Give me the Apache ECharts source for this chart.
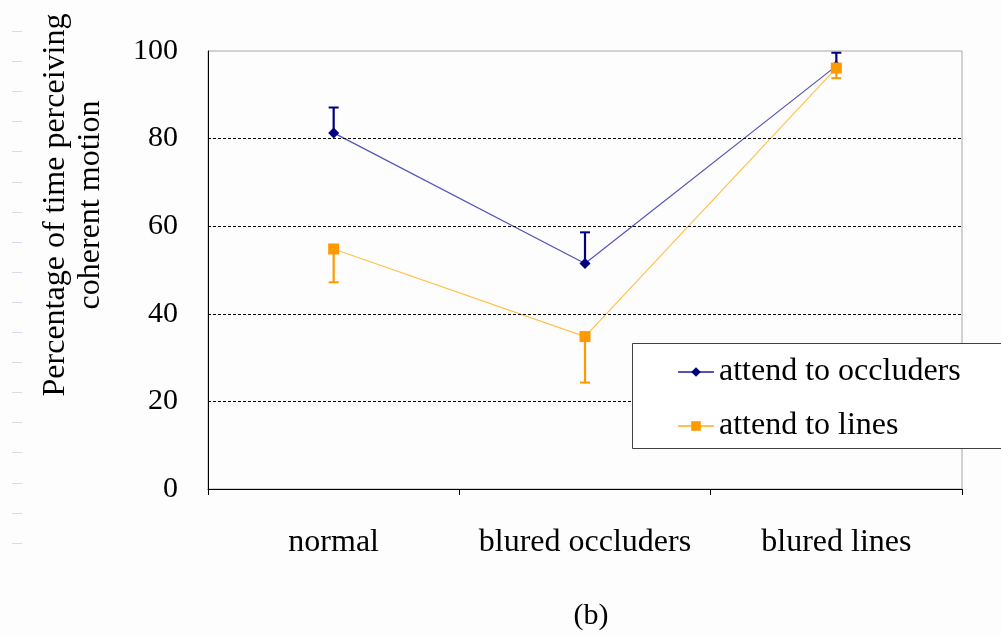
<!DOCTYPE html>
<html>
<head>
<meta charset="utf-8">
<script src="https://cdn.jsdelivr.net/npm/echarts@6/dist/echarts.min.js"></script>
<style>
  html, body { margin: 0; padding: 0; background: #fdfdfd; }
  #chart { width: 1001px; height: 636px; }
</style>
</head>
<body>
<div id="chart"></div>
<script>
// Conditions along the x axis
const categories = ['normal', 'blured occluders', 'blured lines'];

// Mean percentage of time perceiving coherent motion
const occludersMean = [81.3, 51.5, 96.6];
const linesMean = [54.8, 34.8, 96.1];

// Error bar ends (occluders drawn upward, lines drawn downward)
const occludersUpper = [87.1, 58.6, 99.6];
const linesLower = [47.2, 24.3, 93.8];

// Value axis ticks and dashed reference lines
const yTicks = [0, 20, 40, 60, 80, 100];
const gridValues = [20, 40, 60, 80];

const seriesNames = ['attend to occluders', 'attend to lines'];

const FONT = 'Liberation Serif';

function errorBar(color) {
  return function (params, api) {
    const base = api.coord([api.value(0), api.value(1)]);
    const end = api.coord([api.value(0), api.value(2)]);
    const half = 5;
    return {
      type: 'group',
      children: [
        { type: 'line', shape: { x1: base[0], y1: base[1], x2: end[0], y2: end[1] },
          style: { stroke: color, lineWidth: 2.2 } },
        { type: 'line', shape: { x1: end[0] - half, y1: end[1], x2: end[0] + half, y2: end[1] },
          style: { stroke: color, lineWidth: 2 } }
      ]
    };
  };
}

// Faint ruler marks along the left margin
const marginMarks = [];
for (let y = 31; y < 560; y += 30.1) {
  marginMarks.push({
    type: 'line', silent: true, z: 0,
    shape: { x1: 12, y1: Math.round(y) + 0.5, x2: 22, y2: Math.round(y) + 0.5 },
    style: { stroke: '#d9d9ec', lineWidth: 1 }
  });
}

const chart = echarts.init(document.getElementById('chart'), null, { renderer: 'canvas' });

chart.setOption({
  backgroundColor: '#fdfdfd',
  animation: false,
  textStyle: { fontFamily: FONT },
  grid: {
    left: 208, right: 39, top: 51, bottom: 147,
    show: true, borderColor: '#a8a8a8', borderWidth: 1, backgroundColor: 'transparent'
  },
  xAxis: {
    type: 'category',
    data: categories,
    axisLine: { lineStyle: { color: '#000', width: 1 } },
    axisTick: { show: true, length: 6, interval: 0, lineStyle: { color: '#000' } },
    axisLabel: { color: '#000', fontFamily: FONT, fontSize: 32, margin: 38, interval: 0 },
    splitLine: { show: false }
  },
  yAxis: {
    type: 'value',
    min: yTicks[0], max: yTicks[yTicks.length - 1], interval: 20,
    axisLine: { show: true, lineStyle: { color: '#000', width: 1 } },
    axisTick: { show: false },
    axisLabel: { color: '#000', fontFamily: FONT, fontSize: 30, margin: 30 },
    splitLine: { show: false }
  },
  legend: {
    data: seriesNames,
    orient: 'vertical',
    left: 677, top: 356,
    padding: 0,
    itemWidth: 36, itemHeight: 12,
    itemGap: 22,
    z: 20,
    textStyle: { color: '#000', fontFamily: FONT, fontSize: 32, lineHeight: 32 }
  },
  graphic: [
    ...marginMarks,
    {
      type: 'rect', z: 10, silent: true,
      shape: { x: 632.5, y: 343.5, width: 400, height: 105 },
      style: { fill: '#ffffff', stroke: '#404040', lineWidth: 1 }
    },
    {
      type: 'text', z: 10, silent: true,
      x: 73, y: 205, rotation: Math.PI / 2,
      style: {
        text: 'Percentage of time perceiving\ncoherent motion',
        font: '32px "Liberation Serif"', fill: '#000',
        align: 'center', verticalAlign: 'middle', lineHeight: 35
      }
    },
    {
      type: 'text', z: 10, silent: true,
      x: 591, y: 616,
      style: {
        text: '(b)', font: '30px "Liberation Serif"', fill: '#000',
        align: 'center', verticalAlign: 'middle'
      }
    }
  ],
  series: [
    {
      name: 'occluders error',
      type: 'custom',
      z: 1,
      silent: true,
      renderItem: errorBar('#000080'),
      encode: { x: 0, y: [1, 2] },
      data: occludersMean.map((v, i) => [i, v, occludersUpper[i]])
    },
    {
      name: 'lines error',
      type: 'custom',
      z: 1,
      silent: true,
      renderItem: errorBar('#ff9900'),
      encode: { x: 0, y: [1, 2] },
      data: linesMean.map((v, i) => [i, v, linesLower[i]])
    },
    {
      name: seriesNames[0],
      type: 'line',
      z: 3,
      data: occludersMean,
      symbol: 'diamond',
      symbolSize: [11, 11],
      showAllSymbol: true,
      lineStyle: { color: '#5454b8', width: 1.2 },
      itemStyle: { color: '#000080', borderWidth: 0 },
      markLine: {
        silent: true,
        symbol: ['none', 'none'],
        label: { show: false },
        lineStyle: { color: '#000', type: [3, 2], width: 1 },
        data: gridValues.map(v => ({ yAxis: v }))
      }
    },
    {
      name: seriesNames[1],
      type: 'line',
      z: 4,
      data: linesMean,
      symbol: 'rect',
      symbolSize: [11, 11],
      showAllSymbol: true,
      lineStyle: { color: '#ffc24a', width: 1.2 },
      itemStyle: { color: '#ff9900', borderWidth: 0 }
    }
  ]
});
</script>
</body>
</html>
